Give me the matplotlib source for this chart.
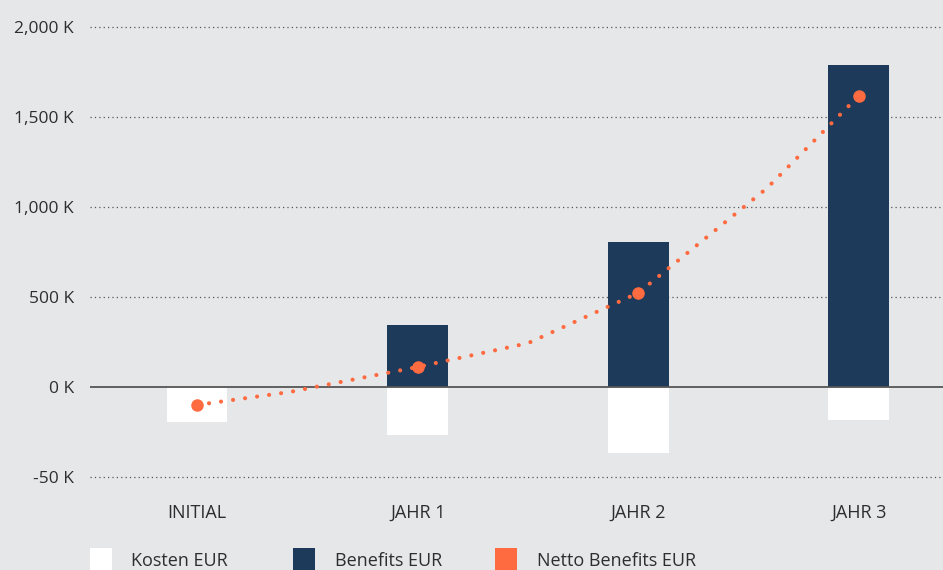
import matplotlib
matplotlib.use("Agg")
import matplotlib.pyplot as plt
from matplotlib.path import Path
from matplotlib.patches import Rectangle

plt.rcParams['font.family'] = ['Open Sans', 'DejaVu Sans']

# Daten (in Tausend EUR)
kategorien = ["INITIAL", "JAHR 1", "JAHR 2", "JAHR 3"]
kosten = [-193, -265, -367, -185]
benefits = [0, 344, 806, 1789]
netto = [-100, 111, 522, 1617]
y_ticks = [-500, 0, 500, 1000, 1500, 2000]
y_labels = ["-50 K", "0 K", "500 K", "1,000 K", "1,500 K", "2,000 K"]

BG = "#e6e7e9"
NAVY = "#1e3a5a"
ORANGE = "#ff6b40"
TEXT = "#2e2e2e"

W, H = 943, 570
fig = plt.figure(figsize=(W / 100, H / 100), dpi=100, facecolor=BG)
ax = fig.add_axes([90 / W, 1 - 486 / H, 853 / W, (486 - 17.7) / H])
ax.set_facecolor(BG)

x = list(range(len(kategorien)))
breite = 0.276
ax.bar(x, kosten, width=breite, color="white", zorder=2)
ax.bar(x, benefits, width=breite, color=NAVY, zorder=2)

# geglättete Linie (Catmull-Rom als Bezier)
pts = list(zip(x, netto))
verts = [pts[0]]
codes = [Path.MOVETO]
for i in range(len(pts) - 1):
    p0 = pts[i - 1] if i > 0 else pts[i]
    p1 = pts[i]
    p2 = pts[i + 1]
    p3 = pts[i + 2] if i + 2 < len(pts) else pts[i + 1]
    c1 = (p1[0] + (p2[0] - p0[0]) / 6, p1[1] + (p2[1] - p0[1]) / 6)
    c2 = (p2[0] - (p3[0] - p1[0]) / 6, p2[1] - (p3[1] - p1[1]) / 6)
    verts += [c1, c2, p2]
    codes += [Path.CURVE4] * 3
poly = Path(verts, codes).to_polygons(closed_only=False)[0]
ax.plot(poly[:, 0], poly[:, 1], color=ORANGE, linewidth=3.0,
        linestyle=(0, (0.01, 2.9)), dash_capstyle="round", zorder=4)
ax.plot(x, netto, linestyle="none", marker="o", markersize=8, color=ORANGE, zorder=5)

ax.set_xlim(-0.485, 3.381)
ax.set_ylim(-550, 2050)
ax.set_yticks(y_ticks)
ax.set_yticklabels(y_labels)
ax.set_xticks(x)
ax.set_xticklabels(kategorien)
ax.tick_params(axis="y", length=0, pad=11.5, labelsize=12.5, labelcolor=TEXT)
ax.tick_params(axis="x", length=0, pad=13, labelsize=13, labelcolor=TEXT)

for t in y_ticks:
    if t == 0:
        ax.axhline(0, color="#555555", linewidth=1.3, zorder=3)
    else:
        ax.axhline(t, color="#555555", linewidth=0.9, linestyle=(0, (1, 2.5)), zorder=1)

for s in ax.spines.values():
    s.set_visible(False)

# Legende
legende = [("Kosten EUR", "white", 90, 131), ("Benefits EUR", NAVY, 293, 335),
           ("Netto Benefits EUR", ORANGE, 495, 537)]
for text, farbe, qx, tx in legende:
    fig.patches.append(Rectangle((qx / W, 0), 22 / W, 22 / H, transform=fig.transFigure,
                                 facecolor=farbe, edgecolor="none"))
    fig.text(tx / W, 1 - 566 / H, text, fontsize=13, color=TEXT, va="baseline", ha="left")

fig.savefig("out.png", dpi=100, facecolor=BG)
